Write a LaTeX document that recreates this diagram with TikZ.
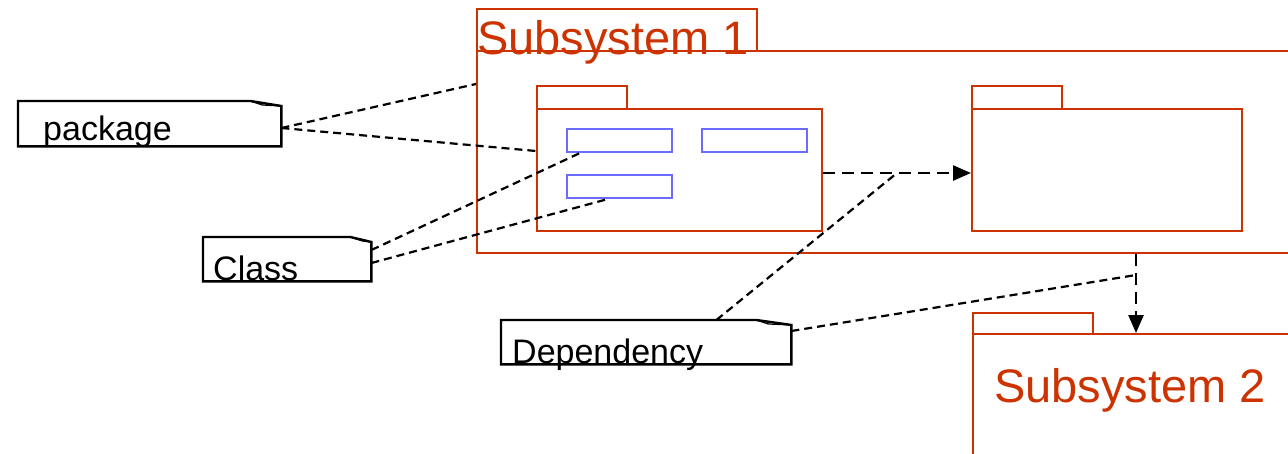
\documentclass[tikz,border=0pt]{standalone}
\usepackage{fontspec}
\setmainfont{Liberation Sans}
\usetikzlibrary{arrows.meta}
\definecolor{subred}{HTML}{CC3300}
\definecolor{classblue}{HTML}{6B6BFF}

\tikzset{
  pkgbox/.style={draw=subred, line width=2.3pt, anchor=north west, inner sep=0pt},
  classbox/.style={draw=classblue, line width=2pt, anchor=north west, inner sep=0pt,
    minimum width=105pt, minimum height=23pt},
  notebox/.style={anchor=north west, inner sep=0pt},
  noteedge/.style={line width=2.4pt, line join=miter},
  notetext/.style={anchor=base west, inner sep=0pt, font=\fontsize{34}{40}\selectfont},
  subtitle/.style={anchor=base west, inner sep=0pt, text=subred, font=\fontsize{47}{56}\selectfont},
  noteline/.style={line width=2.2pt, dash pattern=on 8pt off 5pt},
  deparrow/.style={line width=2.5pt, dash pattern=on 12pt off 7pt, -{Triangle[length=18pt,width=15pt]}},
}

% note outline with folded corner: name, fold width
\newcommand{\notefold}[2]{%
  \draw[noteedge] (#1.north west) -- ([xshift=-#2]#1.north east) -- ([yshift=-5pt]#1.north east)
    -- (#1.south east) -- (#1.south west) -- cycle;
  \draw[line width=1.2pt] ([xshift=-#2]#1.north east) -- ([xshift=-#2+12pt,yshift=-4pt]#1.north east)
    -- ([yshift=-5pt]#1.north east);
}

\begin{document}
\begin{tikzpicture}[x=1pt, y=-1pt]
\useasboundingbox (0,0) rectangle (1288,453);
\clip (0,0) rectangle (1288,453);

% subsystem 1
\node[pkgbox, minimum width=280pt, minimum height=42pt] (sub1tab) at (476,8) {};
\node[pkgbox, minimum width=840pt, minimum height=202pt] (sub1) at (476,50) {};
\node[subtitle] (sub1label) at (477,54) {Subsystem 1};

% packages inside
\node[pkgbox, minimum width=90pt, minimum height=23pt] (pkgAtab) at (536,85) {};
\node[pkgbox, minimum width=285pt, minimum height=122pt] (pkgA) at (536,108) {};
\node[pkgbox, minimum width=90pt, minimum height=23pt] (pkgBtab) at (971,85) {};
\node[pkgbox, minimum width=270pt, minimum height=122pt] (pkgB) at (971,108) {};

% classes
\node[classbox] (clsA) at (566,128) {};
\node[classbox] (clsB) at (701,128) {};
\node[classbox] (clsC) at (566,174) {};

% subsystem 2
\node[pkgbox, minimum width=120pt, minimum height=21pt] (sub2tab) at (972,312) {};
\node[pkgbox, minimum width=340pt, minimum height=140pt] (sub2) at (972,333) {};
\node[subtitle] (sub2label) at (994,402) {Subsystem 2};

% notes
\node[notebox, minimum width=263pt, minimum height=45pt] (pkgnote) at (18,101) {};
\notefold{pkgnote}{31pt}
\node[notetext] (pkgtext) at ([xshift=25pt,yshift=6pt]pkgnote.south west) {package};

\node[notebox, minimum width=168pt, minimum height=44pt] (clsnote) at (203,237) {};
\notefold{clsnote}{21pt}
\node[notetext] (clstext) at ([xshift=10pt,yshift=1pt]clsnote.south west) {Class};

\node[notebox, minimum width=290pt, minimum height=44pt] (depnote) at (501,320) {};
\notefold{depnote}{35pt}
\node[notetext] (deptext) at ([xshift=11pt,yshift=1pt]depnote.south west) {Dependency};

% dependencies
\coordinate (dropx) at (1136,0);
\coordinate (depmid) at (897,173);
\coordinate (depend) at (1136,275);
\draw[deparrow] ([yshift=-65pt]pkgA.north east) -- ([yshift=-65pt]pkgB.north west);
\draw[deparrow] (dropx |- sub1.south) -- (dropx |- sub2.north);

% note links
\draw[noteline] ([yshift=-27pt]pkgnote.north east) -- ([yshift=-34pt]sub1.north west);
\draw[noteline] ([yshift=-27pt]pkgnote.north east) -- ([yshift=-43pt]pkgA.north west);
\draw[noteline] ([yshift=-13pt]clsnote.north east) -- ([xshift=14pt]clsA.south west);
\draw[noteline] ([yshift=-26pt]clsnote.north east) -- ([xshift=42pt]clsC.south west);
\draw[noteline] ([xshift=-75pt]depnote.north east) -- (depmid);
\draw[noteline] ([yshift=-11pt]depnote.north east) -- (depend);
\end{tikzpicture}
\end{document}
